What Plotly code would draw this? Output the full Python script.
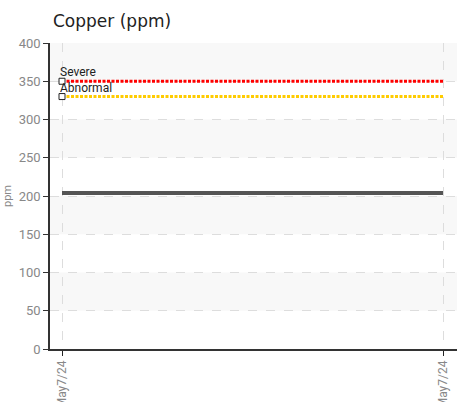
import plotly.graph_objects as go

# ---- data ----
dates = ["May7/24", "May7/24"]          # x tick labels
copper = [204, 204]                     # measured copper (ppm)
limit_names = ["Severe", "Abnormal"]
limit_values = [350, 330]
limit_colors = ["#ff0000", "#ffcc00"]
y_ticks = [0, 50, 100, 150, 200, 250, 300, 350, 400]

xs = list(range(len(dates)))
narrow = "Roboto, sans-serif"

fig = go.Figure()

# alternating horizontal bands
shapes = []
for i in range(len(y_ticks) - 1):
    if i % 2 == 1:
        shapes.append(dict(type="rect", xref="paper", yref="y", x0=0, x1=1,
                           y0=y_ticks[i], y1=y_ticks[i + 1],
                           fillcolor="#f8f8f8", line=dict(width=0), layer="below"))

# limit lines
for name, val, col in zip(limit_names, limit_values, limit_colors):
    fig.add_trace(go.Scatter(x=xs, y=[val] * len(xs), mode="lines",
                             line=dict(color=col, width=3, dash="3px,1.5px"),
                             hoverinfo="skip", showlegend=False))

# copper series
fig.add_trace(go.Scatter(x=xs, y=copper, mode="lines",
                         line=dict(color="#555555", width=4),
                         showlegend=False))

# limit markers and labels
fig.add_trace(go.Scatter(x=[xs[0]] * len(limit_values), y=limit_values, mode="markers",
                         marker=dict(symbol="square", size=6, color="white",
                                     line=dict(color="#222222", width=1)),
                         showlegend=False, hoverinfo="skip"))
for name, val in zip(limit_names, limit_values):
    fig.add_annotation(x=xs[0], y=val, text=name, showarrow=False,
                       xanchor="left", yanchor="bottom", xshift=-4, yshift=0,
                       font=dict(family=narrow, size=12, color="#222222"))

span = xs[-1] - xs[0]
fig.update_layout(
    width=457, height=402,
    margin=dict(l=50, r=0, t=43, b=53),
    paper_bgcolor="white", plot_bgcolor="white",
    shapes=shapes,
    title=dict(text="Copper (ppm)", x=53 / 457, xanchor="left", xref="container",
               y=1 - 21 / 402, yanchor="middle", yref="container",
               font=dict(family="DejaVu Sans, Verdana, sans-serif", size=17, color="#222222")),
    xaxis=dict(range=[xs[0] - 0.0315 * span, xs[-1] + 0.0367 * span],
               tickvals=xs, ticktext=dates, tickangle=-90, automargin=False,
               ticks="outside", ticklen=5, tickcolor="#222222",
               showline=True, linecolor="#333333", linewidth=1.5,
               showgrid=True, gridcolor="#dddddd", griddash="dash", gridwidth=1,
               zeroline=False,
               tickfont=dict(family=narrow, size=12, color="#888888")),
    yaxis=dict(range=[0, 400], tickvals=y_ticks, automargin=False,
               ticks="outside", ticklen=5, tickcolor="#333333",
               showline=True, linecolor="#333333", linewidth=1.5,
               showgrid=True, gridcolor="#dddddd", griddash="dash", gridwidth=1,
               zeroline=False,
               title=dict(text="ppm", standoff=5,
                          font=dict(family=narrow, size=11, color="#888888")),
               tickfont=dict(family=narrow, size=13, color="#888888")),
)

fig.write_html("out.html", config={"displayModeBar": False},
               post_script="document.body.style.margin='0';document.body.style.overflow='hidden';")
